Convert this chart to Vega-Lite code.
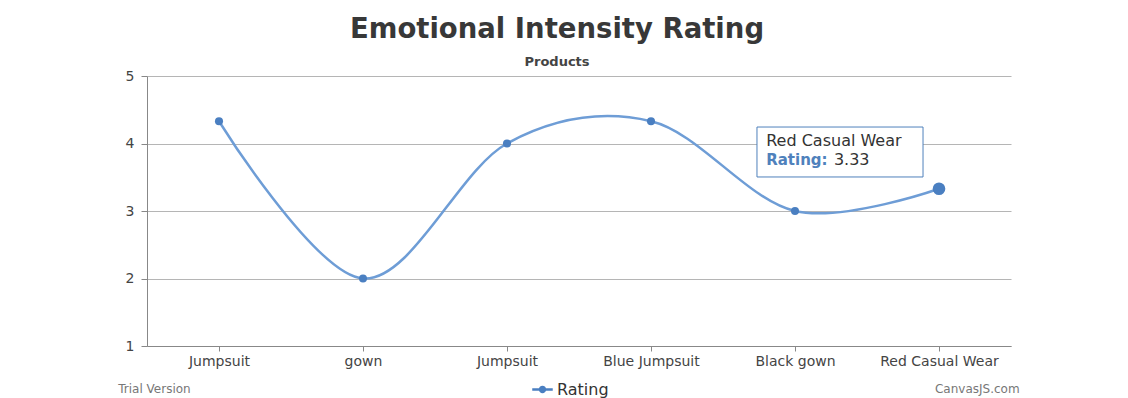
{
  "$schema": "https://vega.github.io/schema/vega-lite/v6.json",
  "autosize": {"type": "none"},
  "width": 864,
  "height": 270,
  "padding": {"left": 147, "top": 76, "right": 117, "bottom": 52},
  "background": "white",
  "title": {
    "text": "Emotional Intensity Rating",
    "subtitle": "Products",
    "anchor": "middle",
    "frame": "group",
    "dx": -22,
    "offset": 0,
    "font": "DejaVu Sans",
    "fontSize": 27.5,
    "fontWeight": "bold",
    "color": "#383838",
    "subtitleFont": "DejaVu Sans",
    "subtitleFontSize": 13,
    "subtitleFontWeight": "bold",
    "subtitleColor": "#444444",
    "subtitlePadding": 13
  },
  "config": {
    "view": {"stroke": null},
    "axis": {"labelFont": "DejaVu Sans", "labelColor": "#444444", "labelFontSize": 14}
  },
  "layer": [
    {
      "data": {"name": "main", "values": [
        {"i": 0, "product": "Jumpsuit", "rating": 4.33, "series": "Rating"},
        {"i": 1, "product": "gown", "rating": 2, "series": "Rating"},
        {"i": 2, "product": "Jumpsuit", "rating": 4, "series": "Rating"},
        {"i": 3, "product": "Blue Jumpsuit", "rating": 4.33, "series": "Rating"},
        {"i": 4, "product": "Black gown", "rating": 3, "series": "Rating"},
        {"i": 5, "product": "Red Casual Wear", "rating": 3.33, "series": "Rating"}
      ]},
      "layer": [
        {
          "mark": {"type": "line", "interpolate": "cardinal", "color": "#6e9dd6", "strokeWidth": 2.5},
          "encoding": {
            "x": {"field": "i", "type": "quantitative", "scale": {"domain": [-0.5, 5.5], "nice": false, "zero": false},
              "axis": {"values": [0, 1, 2, 3, 4, 5], "grid": false, "title": null, "domainColor": "#888888", "tickColor": "#888888", "tickSize": 5, "labelPadding": 3,
                "labelExpr": "['Jumpsuit','gown','Jumpsuit','Blue Jumpsuit','Black gown','Red Casual Wear'][datum.value]"}},
            "y": {"field": "rating", "type": "quantitative", "scale": {"domain": [1, 5], "nice": false, "zero": false},
              "axis": {"values": [1, 2, 3, 4, 5], "format": "d", "grid": true, "gridColor": "#b5b5b5", "title": null, "domainColor": "#888888", "tickColor": "#888888", "tickSize": 6, "labelPadding": 7}}
          }
        },
        {
          "mark": {"type": "point", "filled": true, "opacity": 1, "size": 65},
          "encoding": {
            "x": {"field": "i", "type": "quantitative"},
            "y": {"field": "rating", "type": "quantitative"},
            "color": {"field": "series", "type": "nominal", "scale": {"range": ["#4a7fc1"]},
              "legend": {"title": null, "orient": "none", "legendX": 385, "legendY": 303, "symbolType": "M-1,-0.11H1V0.11H-1Z M-0.36,0A0.36,0.36 0 1,1 0.36,0A0.36,0.36 0 1,1 -0.36,0Z", "symbolSize": 420, "symbolStrokeWidth": 0, "labelFont": "DejaVu Sans", "labelFontSize": 16, "labelColor": "#333333", "labelOffset": 4}}
          }
        },
        {
          "transform": [{"filter": "datum.i == 5"}],
          "mark": {"type": "point", "filled": true, "opacity": 1, "size": 160, "color": "#4a7fc1"},
          "encoding": {
            "x": {"field": "i", "type": "quantitative"},
            "y": {"field": "rating", "type": "quantitative"}
          }
        }
      ]
    },
    {
      "data": {"values": [{"x": 3.736, "x2": 4.889, "y": 4.244, "y2": 3.504}]},
      "mark": {"type": "rect", "fill": "white", "stroke": "#4f81bc", "strokeWidth": 1, "clip": false},
      "encoding": {
        "x": {"field": "x", "type": "quantitative"},
        "x2": {"field": "x2"},
        "y": {"field": "y", "type": "quantitative"},
        "y2": {"field": "y2"}
      }
    },
    {
      "data": {"values": [
        {"x": 3.8, "y": 4.04, "t": "Red Casual Wear"}
      ]},
      "mark": {"type": "text", "align": "left", "baseline": "middle", "font": "DejaVu Sans", "fontSize": 16, "color": "#333333", "clip": false},
      "encoding": {
        "x": {"field": "x", "type": "quantitative"},
        "y": {"field": "y", "type": "quantitative"},
        "text": {"field": "t"}
      }
    },
    {
      "data": {"values": [
        {"x": 3.8, "y": 3.75, "t": "Rating:"}
      ]},
      "mark": {"type": "text", "align": "left", "baseline": "middle", "font": "DejaVu Sans", "fontSize": 15, "fontWeight": "bold", "color": "#4f81bc", "clip": false},
      "encoding": {
        "x": {"field": "x", "type": "quantitative"},
        "y": {"field": "y", "type": "quantitative"},
        "text": {"field": "t"}
      }
    },
    {
      "data": {"values": [
        {"x": 4.27, "y": 3.75, "t": "3.33"}
      ]},
      "mark": {"type": "text", "align": "left", "baseline": "middle", "font": "DejaVu Sans", "fontSize": 16, "color": "#333333", "clip": false},
      "encoding": {
        "x": {"field": "x", "type": "quantitative"},
        "y": {"field": "y", "type": "quantitative"},
        "text": {"field": "t"}
      }
    },
    {
      "data": {"values": [
        {"x": -0.7, "y": 0.36, "t": "Trial Version", "a": "left"},
        {"x": 5.56, "y": 0.36, "t": "CanvasJS.com", "a": "right"}
      ]},
      "layer": [
        {
          "transform": [{"filter": "datum.a == 'left'"}],
          "mark": {"type": "text", "align": "left", "baseline": "middle", "font": "DejaVu Sans", "fontSize": 12, "color": "#777777", "clip": false},
          "encoding": {"x": {"field": "x", "type": "quantitative"}, "y": {"field": "y", "type": "quantitative"}, "text": {"field": "t"}}
        },
        {
          "transform": [{"filter": "datum.a == 'right'"}],
          "mark": {"type": "text", "align": "right", "baseline": "middle", "font": "DejaVu Sans", "fontSize": 12, "color": "#777777", "clip": false},
          "encoding": {"x": {"field": "x", "type": "quantitative"}, "y": {"field": "y", "type": "quantitative"}, "text": {"field": "t"}}
        }
      ]
    }
  ]
}
